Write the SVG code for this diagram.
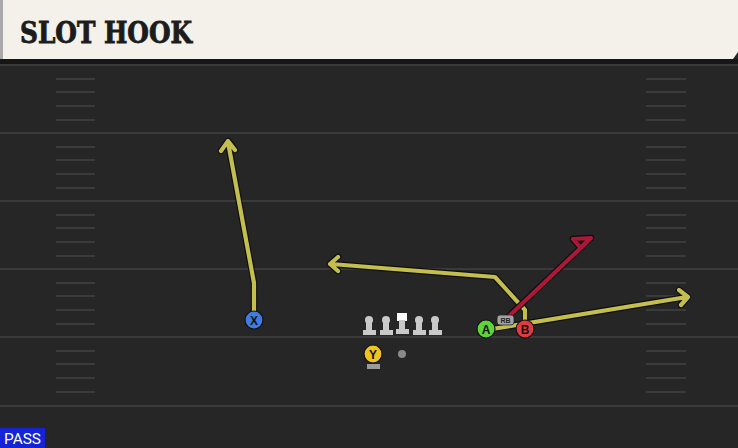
<svg xmlns="http://www.w3.org/2000/svg" width="738" height="448" viewBox="0 0 738 448">
<defs>
<style>
.yl{fill:none;stroke:#c4be4f;stroke-width:4.2;stroke-linejoin:round;stroke-linecap:round}
.rd{fill:none;stroke:#ab1838;stroke-width:4.2;stroke-linejoin:round;stroke-linecap:round}
.ol{fill:none;stroke:#0e0e0e;stroke-width:6.5;stroke-linejoin:round;stroke-linecap:round}
.fl{stroke:#3a3a3a;stroke-width:2}
.hs{stroke:#3b3b3b;stroke-width:2}
.pl{stroke:#111;stroke-width:1.2}
.lt{font-family:"Liberation Sans",Arial,sans-serif;font-weight:bold;font-size:12px;fill:#111;text-anchor:middle}
.ln{fill:#c9c9c9}
</style>
</defs>
<rect x="0" y="0" width="738" height="448" fill="#262626"/>
<g id="field">
<line class="fl" x1="0" y1="65" x2="738" y2="65"/>
<line class="fl" x1="0" y1="133" x2="738" y2="133"/>
<line class="fl" x1="0" y1="201" x2="738" y2="201"/>
<line class="fl" x1="0" y1="269" x2="738" y2="269"/>
<line class="fl" x1="0" y1="337" x2="738" y2="337"/>
<line class="fl" x1="0" y1="406" x2="738" y2="406"/>
<g id="hashes">
<path class="hs" d="M56,79H95M56,92H95M56,106H95M56,120H95M56,147H95M56,160H95M56,174H95M56,188H95M56,215H95M56,228H95M56,242H95M56,256H95M56,283H95M56,296H95M56,310H95M56,324H95M56,351H95M56,364H95M56,378H95M56,392H95"/>
<path class="hs" d="M646,79H686M646,92H686M646,106H686M646,120H686M646,147H686M646,160H686M646,174H686M646,188H686M646,215H686M646,228H686M646,242H686M646,256H686M646,283H686M646,296H686M646,310H686M646,324H686M646,351H686M646,364H686M646,378H686M646,392H686"/>
</g>
</g>
<g id="header">
<rect x="0" y="59" width="738" height="5" fill="#161616"/>
<polygon points="0,0 738,0 738,52 733,59 0,59" fill="#f4f1ea"/>
<rect x="0" y="0" width="3" height="59" fill="#a9a9a9"/>
<text x="20" y="43" font-family="'DejaVu Serif Condensed','DejaVu Serif',serif" font-weight="bold" font-size="29" fill="#1c1c1c" stroke="#1c1c1c" stroke-width="0.8" textLength="172" lengthAdjust="spacingAndGlyphs">SLOT HOOK</text>
</g>
<g id="connectors">
<g id="route-x">
<path class="ol" d="M254,320 L254,283 L228,142 M221,151 L228,141 L235,150"/>
<path class="yl" d="M254,320 L254,283 L228,142 M221,151 L228,141 L235,150"/>
</g>
<g id="route-b">
<path class="ol" d="M525,320 L525,310 L495,277 L331,264 M338,257 L330,264 L338,271"/>
<path class="yl" d="M525,320 L525,310 L495,277 L331,264 M338,257 L330,264 L338,271"/>
</g>
<g id="route-a">
<path class="ol" d="M486,330 L687,297 M679,290 L688,297 L681,305"/>
<path class="yl" d="M486,330 L687,297 M679,290 L688,297 L681,305"/>
</g>
<g id="route-rb">
<path class="ol" d="M507,318 L588,241 M573,239 L591,238 L582,246 M573,239 L579,246"/>
<path class="rd" d="M507,318 L588,241 M573,239 L591,238 L582,246 M573,239 L579,246"/>
</g>
</g>
<g id="line-lt">
<circle class="ln" cx="369" cy="320" r="4"/><rect class="ln" x="366" y="320" width="6" height="11"/><rect class="ln" x="363" y="330" width="13" height="5"/>
</g>
<g id="line-lg">
<circle class="ln" cx="386" cy="320" r="4"/><rect class="ln" x="383" y="320" width="6" height="11"/><rect class="ln" x="380" y="330" width="13" height="5"/>
</g>
<g id="line-c">
<rect x="397" y="313" width="10" height="8" fill="#ffffff"/><rect class="ln" x="399" y="320" width="6" height="11"/><rect class="ln" x="396" y="329" width="13" height="5"/>
</g>
<g id="line-rg">
<circle class="ln" cx="419" cy="320" r="4"/><rect class="ln" x="416" y="320" width="6" height="11"/><rect class="ln" x="413" y="330" width="13" height="5"/>
</g>
<g id="line-rt">
<circle class="ln" cx="435" cy="320" r="4"/><rect class="ln" x="432" y="320" width="6" height="11"/><rect class="ln" x="429" y="330" width="13" height="5"/>
</g>
<g id="ball">
<circle cx="402" cy="354" r="4" fill="#8a8a8a"/>
</g>
<g id="player-y">
<rect x="367" y="364" width="13" height="5" fill="#9a9a9a"/>
<circle class="pl" cx="373" cy="354" r="9" fill="#f0c41e"/>
<text class="lt" x="373" y="358.5">Y</text>
</g>
<g id="player-x">
<circle class="pl" cx="254" cy="320" r="9" fill="#3f7be2"/>
<text class="lt" x="254" y="324.5">X</text>
</g>
<g id="player-a">
<circle class="pl" cx="486" cy="329" r="9" fill="#5fd33c"/>
<text class="lt" x="486" y="333.5">A</text>
</g>
<g id="player-b">
<circle class="pl" cx="525" cy="329" r="9" fill="#e3393f"/>
<text class="lt" x="525" y="333.5">B</text>
</g>
<g id="player-rb">
<rect x="497" y="315" width="17" height="10" rx="3" fill="#a3a3a3" stroke="#222" stroke-width="0.8"/>
<text x="505.5" y="323" font-family="'Liberation Sans',Arial,sans-serif" font-weight="bold" font-size="7" fill="#222" text-anchor="middle">RB</text>
</g>
<g id="pass-tag">
<rect x="0" y="428" width="45" height="20" fill="#1423d6"/>
<text x="22.5" y="444" font-family="Roboto,'Liberation Sans',sans-serif" font-size="15" fill="#ffffff" text-anchor="middle" textLength="37" lengthAdjust="spacingAndGlyphs">PASS</text>
</g>
</svg>
